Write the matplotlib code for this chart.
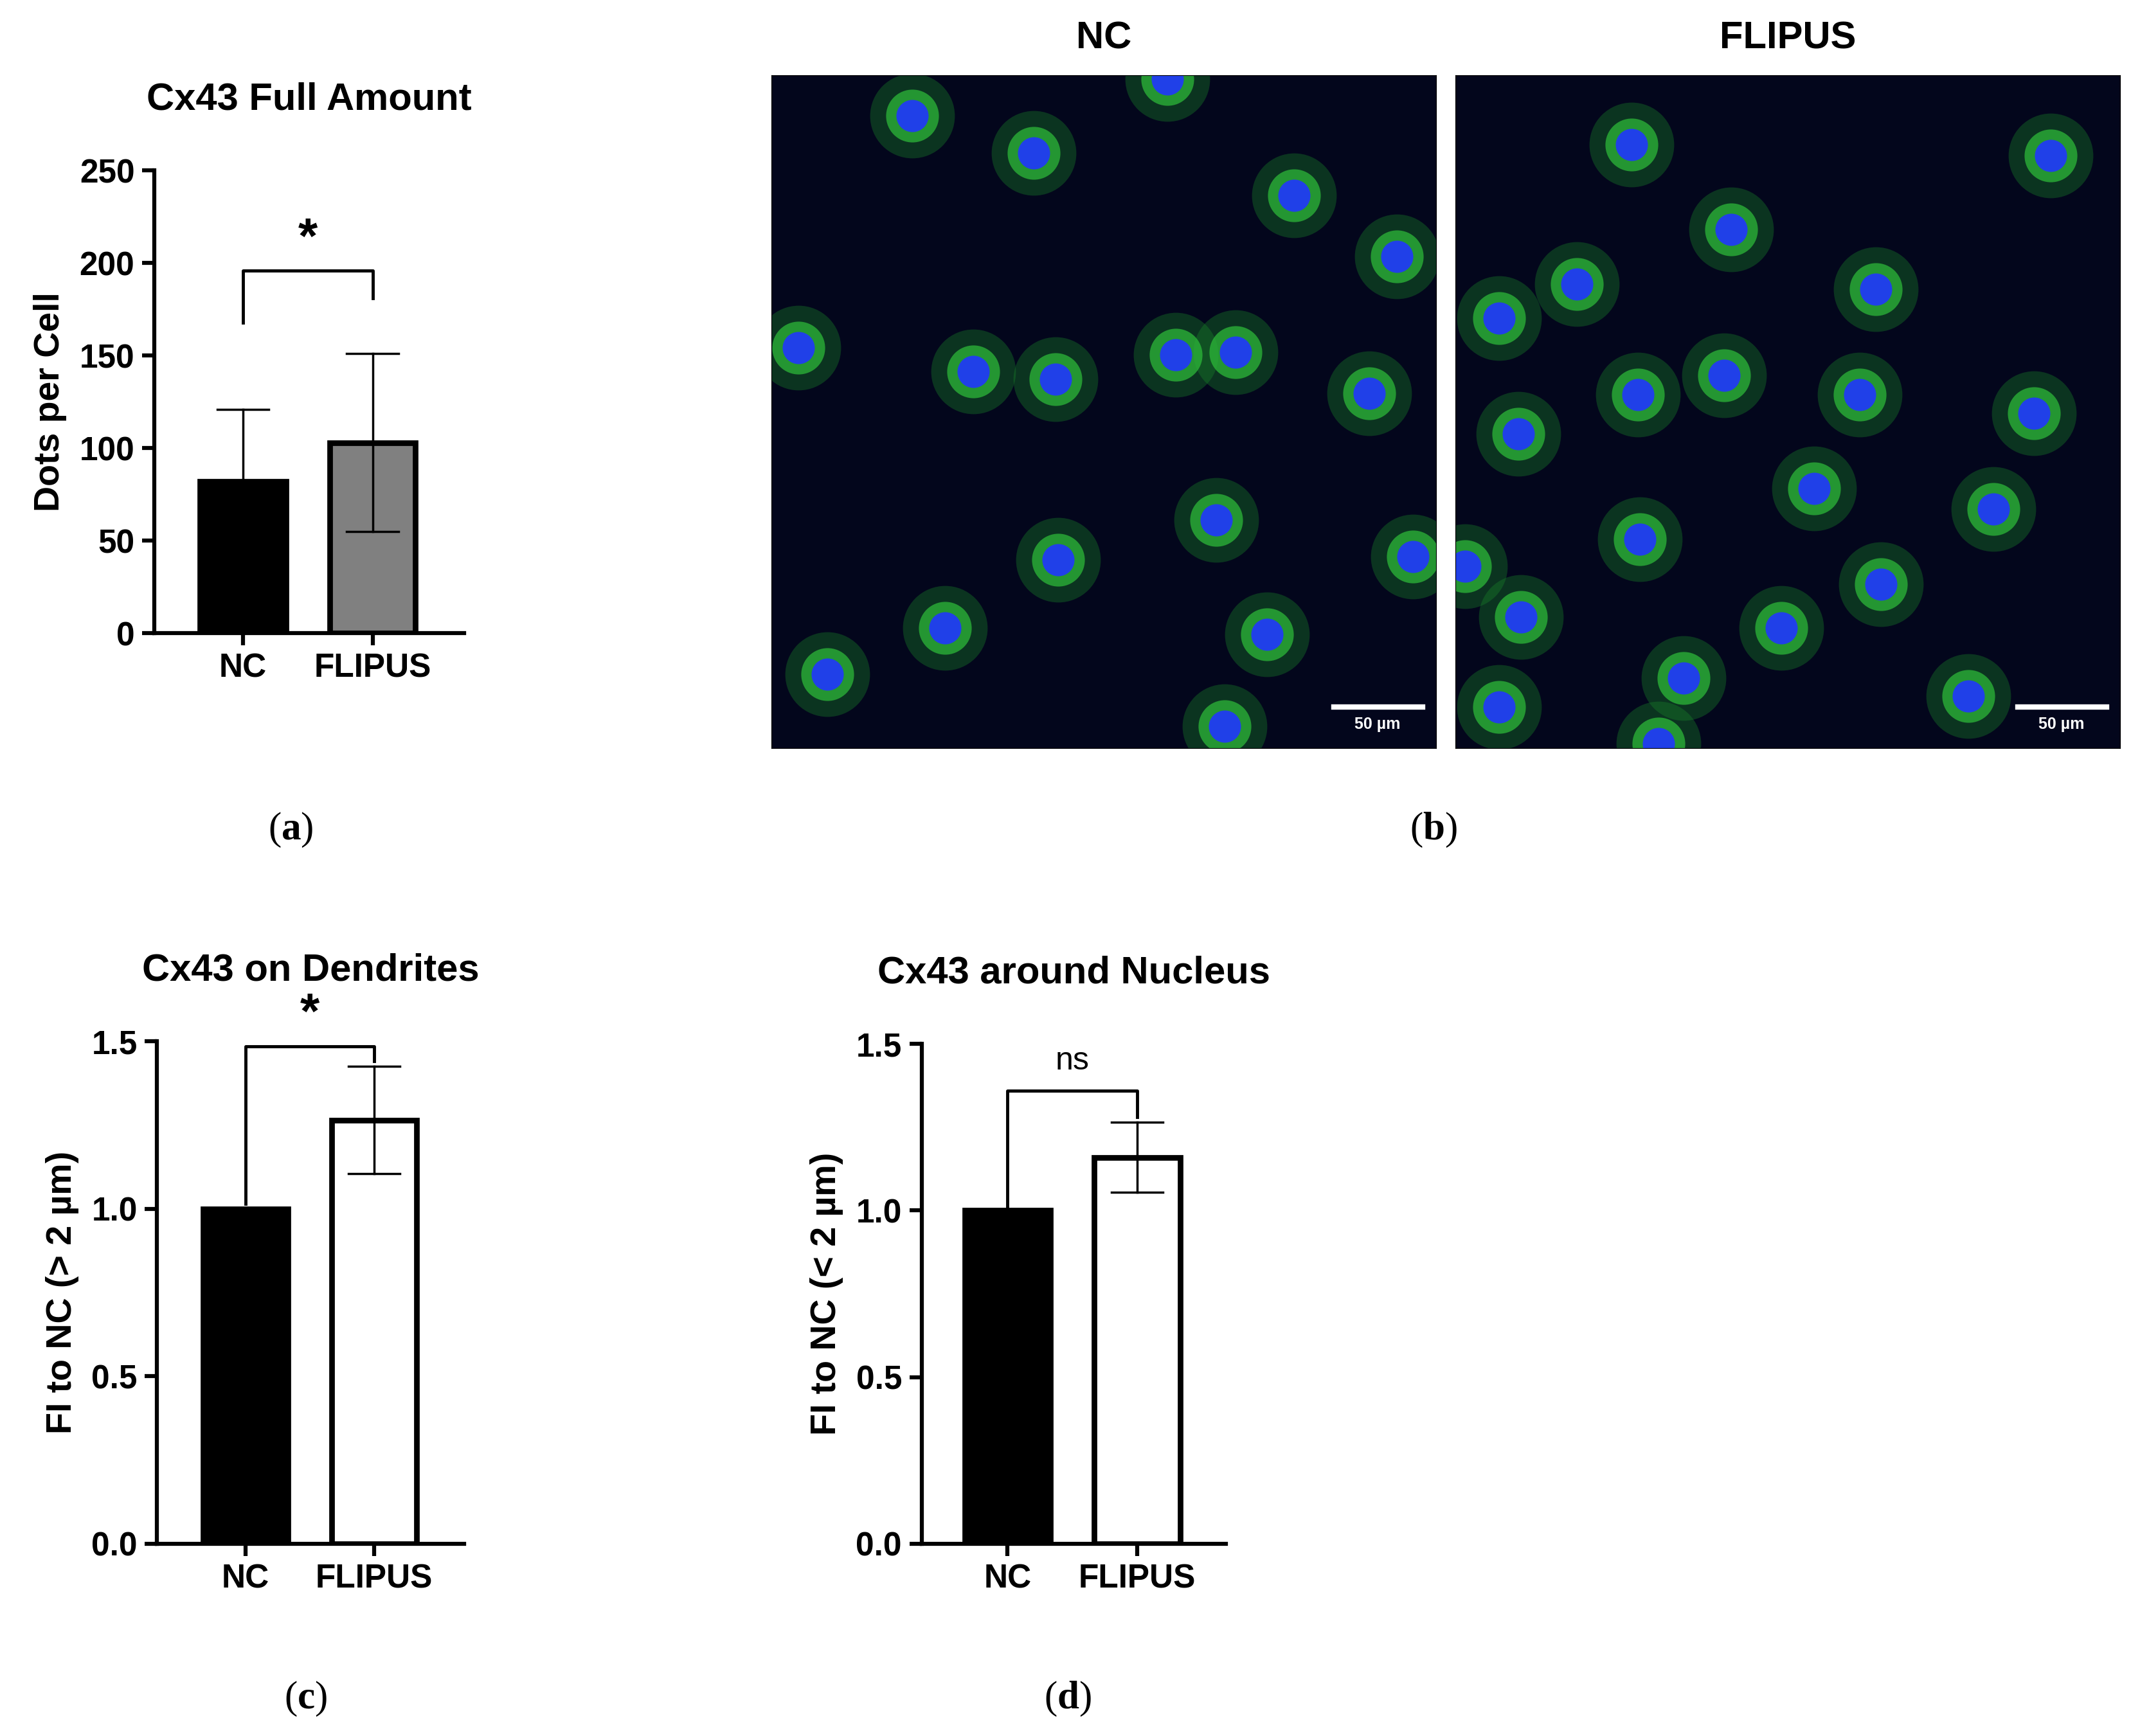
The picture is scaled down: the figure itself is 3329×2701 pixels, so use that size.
import matplotlib
matplotlib.use("Agg")
import matplotlib.pyplot as plt
import numpy as np

plt.rcParams['font.family'] = ['Liberation Sans', 'DejaVu Sans']
plt.rcParams['mathtext.fontset'] = 'custom'
plt.rcParams['mathtext.bf'] = 'Liberation Serif:bold'

groups = ["NC", "FLIPUS"]
a_mean = [82, 103]; a_lo = [82, 55]; a_hi = [121, 151]
c_mean = [1.0, 1.265]; c_lo = [1.0, 1.105]; c_hi = [1.0, 1.425]
d_mean = [1.0, 1.16]; d_lo = [1.0, 1.055]; d_hi = [1.0, 1.265]
a_ticks = [0, 50, 100, 150, 200, 250]
cd_ticks = [0.0, 0.5, 1.0, 1.5]

nc_nuclei = [(103,30),(192,57),(290,3),(383,88),(458,133),(20,200),(148,217),(208,223),(296,205),(340,203),(438,233),(326,326),(210,355),(470,353),(127,405),(363,410),(41,439),(332,477)]
fl_nuclei = [(129,51),(436,59),(202,113),(89,153),(32,178),(308,157),(197,220),(134,234),(296,234),(46,263),(263,303),(424,248),(394,318),(135,340),(312,373),(7,360),(48,397),(239,405),(167,442),(376,455),(32,463),(149,490)]

W, H = 1568, 1272
fig = plt.figure(figsize=(33.3, 27.01), dpi=100)

def rect(x0, x1, ybot, ytop):
    return [x0/W, 1-ybot/H, (x1-x0)/W, (ybot-ytop)/H]

LW = 4.5
def barpanel(r, xlim, ylim, ticks, mean, lo, hi, colors, title, ylabel, bracket, sig, sigsize, titlepad, ticklabels=None):
    ax = fig.add_axes(r)
    x = np.arange(len(groups))
    ax.bar(x, mean, width=0.66, color=colors, edgecolor='black', linewidth=LW*1.4, zorder=2)
    for xi, m, l, h in zip(x, mean, lo, hi):
        if h > m:
            ax.plot([xi, xi], [l, h], color='black', lw=2.5, zorder=3)
            for yy in (l, h):
                ax.plot([xi-0.2, xi+0.2], [yy, yy], color='black', lw=2.5, zorder=3)
    by, l0, l1 = bracket
    ax.plot([0, 0, 1, 1], [l0, by, by, l1], color='black', lw=3.5, clip_on=False)
    ax.text(0.5, by + (ylim[1]-ylim[0])*(0.015 if sig == '*' else 0.03), sig, ha='center', va='bottom',
            fontsize=sigsize, fontweight='bold' if sig == '*' else 'normal')
    ax.set_xlim(*xlim); ax.set_ylim(*ylim)
    ax.set_yticks(ticks)
    if ticklabels: ax.set_yticklabels(ticklabels)
    ax.set_xticks(x); ax.set_xticklabels(groups)
    for s in ('top', 'right'): ax.spines[s].set_visible(False)
    for s in ('left', 'bottom'): ax.spines[s].set_linewidth(LW)
    ax.tick_params(width=LW, length=14, labelsize=37, pad=8)
    for t in ax.get_xticklabels()+ax.get_yticklabels(): t.set_fontweight('bold')
    ax.set_title(title, fontsize=43, fontweight='bold', pad=titlepad)
    ax.set_ylabel(ylabel, fontsize=40, fontweight='bold', labelpad=14)
    return ax

barpanel(rect(113, 340, 464, 125), (-0.684, 1.705), (0, 250), a_ticks, a_mean, a_lo, a_hi,
         ['black', '#808080'], "Cx43 Full Amount", "Dots per Cell", (196, 168, 181), '*', 56, 68)
barpanel(rect(115, 340, 1131, 763), (-0.69, 1.70), (0, 1.5), cd_ticks, c_mean, c_lo, c_hi,
         ['black', 'white'], "Cx43 on Dendrites", "FI to NC (> 2 µm)", (1.485, 1.015, 1.44), '*', 56, 68,
         ['0.0', '0.5', '1.0', '1.5'])
barpanel(rect(675, 898, 1131, 765), (-0.663, 1.684), (0, 1.5), cd_ticks, d_mean, d_lo, d_hi,
         ['black', 'white'], "Cx43 around Nucleus", "FI to NC (< 2 µm)", (1.36, 1.01, 1.28), 'ns', 36, 68,
         ['0.0', '0.5', '1.0', '1.5'])

def micro(x0, title, nuclei):
    ax = fig.add_axes(rect(x0, x0+487, 548, 55))
    ax.set_facecolor('#03061c')
    xs = [p[0] for p in nuclei]; ys = [p[1] for p in nuclei]
    ax.scatter(xs, ys, s=9000, color='#1a8a2a', alpha=0.35, linewidths=0)
    ax.scatter(xs, ys, s=3500, color='#2fc03a', alpha=0.7, linewidths=0)
    ax.scatter(xs, ys, s=1300, color='#2040e8', linewidths=0)
    ax.set_xlim(0, 487); ax.set_ylim(493, 0)
    ax.set_xticks([]); ax.set_yticks([])
    ax.plot([412, 477], [463, 463], color='white', lw=6)
    ax.text(444, 470, "50 µm", color='white', ha='center', va='top', fontsize=18, fontweight='bold')
    ax.set_title(title, fontsize=43, fontweight='bold', pad=30)

micro(565, "NC", nc_nuclei)
micro(1066, "FLIPUS", fl_nuclei)

for lab, x, y in [("a", 213, 608), ("b", 1050, 608), ("c", 224, 1245), ("d", 782, 1245)]:
    fig.text(x/W, 1-y/H, "(" + r"$\mathbf{" + lab + "}$" + ")", ha='center', va='center',
             fontsize=44, family='Liberation Serif')

fig.savefig("out.png", dpi=100)
